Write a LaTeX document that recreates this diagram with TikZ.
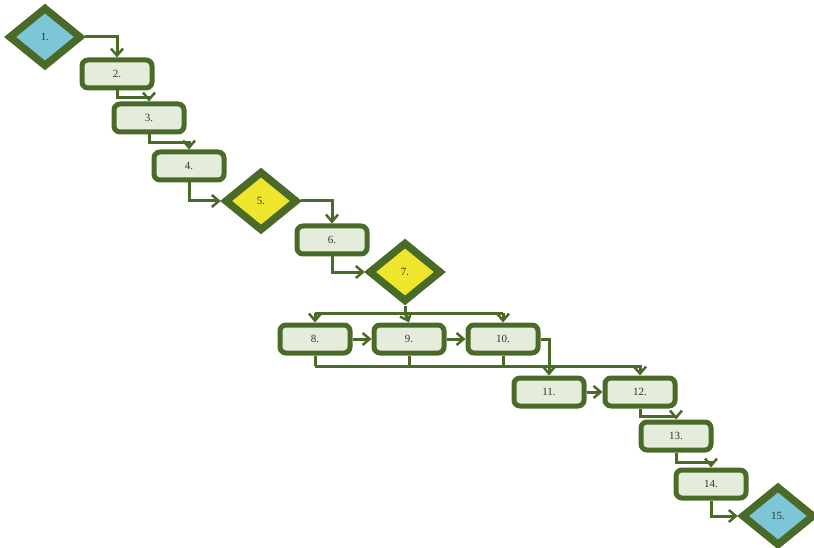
\documentclass[tikz,border=0pt]{standalone}
\usepackage{fontspec}
\setmainfont{Liberation Serif}
\usetikzlibrary{shapes.geometric,arrows.meta}

\definecolor{edgegreen}{HTML}{4A6A28}
\definecolor{boxfill}{HTML}{E4ECDC}
\definecolor{startfill}{HTML}{7CC6D8}
\definecolor{decfill}{HTML}{EEE62C}
\definecolor{labelgray}{HTML}{333333}

\tikzset{
  stepbox/.style={draw=edgegreen, fill=boxfill, line width=5pt, rounded corners=6pt,
    minimum width=70pt, minimum height=28pt, inner sep=0pt,
    font=\fontsize{11}{13}\selectfont, text=labelgray},
  decision/.style={diamond, draw=edgegreen, line width=7.5pt, inner sep=0pt,
    minimum width=73pt, minimum height=60pt,
    font=\fontsize{11}{13}\selectfont, text=labelgray},
  terminal/.style={decision, fill=startfill},
  choice/.style={decision, fill=decfill},
  flow/.style={draw=edgegreen, line width=3pt,
    -{Straight Barb[length=7pt,width=12pt,line width=2.5pt]}},
  bus/.style={draw=edgegreen, line width=3pt}
}

\begin{document}
\begin{tikzpicture}[x=1pt,y=-1pt]
  \useasboundingbox (0,0) rectangle (814,548);

  % process steps and decisions
  \node[terminal] (n1)  at (45,37)  {1.};
  \node[stepbox]  (n2)  at (117,74) {2.};
  \node[stepbox]  (n3)  at (149,118) {3.};
  \node[stepbox]  (n4)  at (189,166) {4.};
  \node[choice]   (n5)  at (261,201) {5.};
  \node[stepbox]  (n6)  at (332,240) {6.};
  \node[choice]   (n7)  at (405,272) {7.};
  \node[stepbox]  (n8)  at (315,339) {8.};
  \node[stepbox]  (n9)  at (409,339) {9.};
  \node[stepbox]  (n10) at (503,339) {10.};
  \node[stepbox]  (n11) at (549,392) {11.};
  \node[stepbox]  (n12) at (640,392) {12.};
  \node[stepbox]  (n13) at (676,436) {13.};
  \node[stepbox]  (n14) at (711,484) {14.};
  \node[terminal] (n15) at (778,516) {15.};

  % branch rails
  \coordinate (split) at (405,313);
  \coordinate (merge) at (0,366);

  % connectors
  \draw[flow] (n1.east) -| (n2.north);
  \draw[flow] (n2.south) -- ++(0,7) -| (n3.north);
  \draw[flow] (n3.south) -- ++(0,8) -| (n4.north);
  \draw[flow] (n4.south) |- (n5.west);
  \draw[flow] (n5.east) -| (n6.north);
  \draw[flow] (n6.south) |- (n7.west);

  \draw[bus] (n7.south) -- (split);
  \draw[bus] (n8.north |- split) -- (n10.north |- split);
  \draw[flow] (n8.north |- split) -- (n8.north);
  \draw[flow] (split) -- (n9.north);
  \draw[flow] (n10.north |- split) -- (n10.north);

  \draw[flow] (n8) -- (n9);
  \draw[flow] (n9) -- (n10);
  \draw[flow] (n10.east) -| (n11.north);

  \draw[bus] (n8.south) -- (n8.south |- merge);
  \draw[bus] (n9.south) -- (n9.south |- merge);
  \draw[bus] (n10.south) -- (n10.south |- merge);
  \draw[flow] (n8.south |- merge) -| (n12.north);

  \draw[flow] (n11) -- (n12);
  \draw[flow] (n12.south) -- ++(0,8) -| (n13.north);
  \draw[flow] (n13.south) -- ++(0,10) -| (n14.north);
  \draw[flow] (n14.south) |- (n15.west);
\end{tikzpicture}
\end{document}
